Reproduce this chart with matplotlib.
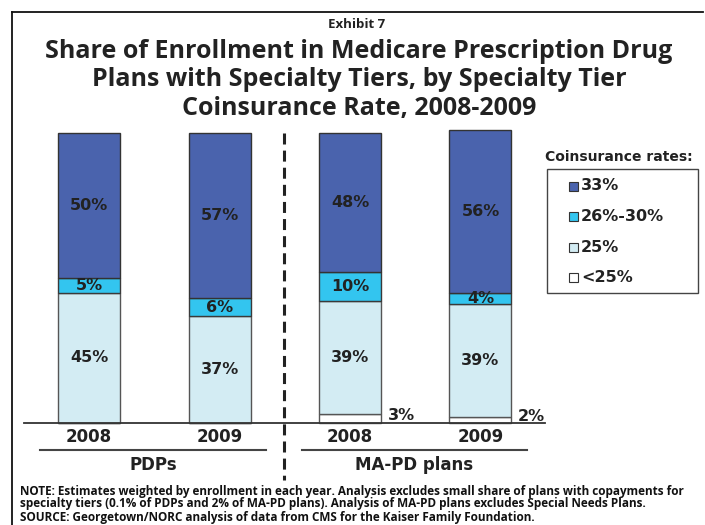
import matplotlib.pyplot as plt
from matplotlib.lines import Line2D
from matplotlib.patches import Rectangle

# Enrollment shares by coinsurance rate (percent)
years = ["2008", "2009", "2008", "2009"]
groups = ["PDPs", "MA-PD plans"]
tiers = ["<25%", "25%", "26%-30%", "33%"]
under_25 = [0, 0, 3, 2]
rate_25 = [45, 37, 39, 39]
rate_26_30 = [5, 6, 10, 4]
rate_33 = [50, 57, 48, 56]

series = [under_25, rate_25, rate_26_30, rate_33]
colors = ["#ffffff", "#d3ecf3", "#33c5ef", "#4a63ad"]
edges = ["#555555", "#555555", "#3a3a3a", "#333333"]

W, H = 705, 525
fig = plt.figure(figsize=(W / 100, H / 100), dpi=100)

def fx(px):
    return px / W

def fy(py):
    return 1 - py / H

# outer frame: top and left rules
fig.add_artist(Line2D([fx(12), fx(703)], [fy(12), fy(12)], color="#111111", lw=1.3))
fig.add_artist(Line2D([fx(12), fx(12)], [fy(12), fy(525)], color="#111111", lw=1.3))

fig.text(fx(357), fy(25), "Exhibit 7", ha="center", va="center",
         fontsize=9.5, fontweight="bold", family="Open Sans", color="#222222")
title_lines = ["Share of Enrollment in Medicare Prescription Drug",
               "Plans with Specialty Tiers, by Specialty Tier",
               "Coinsurance Rate, 2008-2009"]
for i, line in enumerate(title_lines):
    fig.text(fx(359), fy(52 + 28 * i), line, ha="center", va="center",
             fontsize=18, fontweight="bold", family="Open Sans", color="#222222")

# bar area: 0..100% spans pixel rows 423..133
ax = fig.add_axes([fx(24), fy(423), fx(545) - fx(24), (423 - 133) / H])
ax.set_xlim(-65 / 130.5, (545 - 89) / 130.5)
ax.set_ylim(0, 100)
ax.axis("off")

x = list(range(len(years)))
bar_w = 62 / 130.5
bottom = [0] * len(years)
for vals, c, ec in zip(series, colors, edges):
    ax.bar(x, vals, bar_w, bottom=bottom, color=c, edgecolor=ec, linewidth=1.0,
           clip_on=False, zorder=2)
    for xi, v, b in zip(x, vals, bottom):
        if v >= 4:
            ax.text(xi, b + v / 2, f"{v}%", ha="center", va="center",
                    fontsize=11.5, fontweight="bold", color="#222222", zorder=3)
        elif v > 0:
            ax.text(xi + bar_w / 2 + 0.05, b + v / 2 + 1.2, f"{v}%", ha="left",
                    va="center", fontsize=11.5, fontweight="bold", color="#222222")
    bottom = [b + v for b, v in zip(bottom, vals)]

ax.axhline(0, color="#333333", lw=1.3, zorder=4, clip_on=False)

for xi, yr in zip(x, years):
    ax.text(xi, -5, yr, ha="center", va="center", fontsize=12, fontweight="bold",
            color="#222222", clip_on=False)

# group underlines and labels
for (x0, x1), g in zip([(40, 266), (302, 527)], groups):
    fig.add_artist(Line2D([fx(x0), fx(x1)], [fy(450), fy(450)], color="#444444", lw=1.5))
    fig.text(fx((x0 + x1) / 2), fy(465), g, ha="center", va="center",
             fontsize=12, fontweight="bold", color="#222222")

# divider between the two plan types
fig.add_artist(Line2D([fx(284), fx(284)], [fy(133), fy(480)], color="#222222",
                      lw=2.2, dashes=(3.6, 2.0)))

# legend
fig.text(fx(619), fy(157), "Coinsurance rates:", ha="center", va="center",
         fontsize=10, fontweight="bold", color="#222222")
fig.add_artist(Rectangle((fx(547), fy(293)), fx(698) - fx(547), (293 - 169) / H,
                         fill=False, edgecolor="#444444", lw=1.0))
for i, (lab, c) in enumerate(zip(tiers[::-1], colors[::-1])):
    yy = 186 + 30.5 * i
    fig.add_artist(Rectangle((fx(569), fy(yy + 4.5)), 9 / W, 9 / H,
                             facecolor=c, edgecolor="#333333", lw=0.8))
    fig.text(fx(581), fy(yy), lab, ha="left", va="center", fontsize=11.5,
             fontweight="bold", color="#222222")

notes = ["NOTE: Estimates weighted by enrollment in each year. Analysis excludes small share of plans with copayments for",
         "specialty tiers (0.1% of PDPs and 2% of MA-PD plans). Analysis of MA-PD plans excludes Special Needs Plans.",
         "SOURCE: Georgetown/NORC analysis of data from CMS for the Kaiser Family Foundation."]
for i, n in enumerate(notes):
    fig.text(fx(20), fy(491 + 13 * i), n, ha="left", va="center", fontsize=8.5,
             fontweight="bold", family="Open Sans", color="#111111")

fig.savefig("out.png", dpi=100)
